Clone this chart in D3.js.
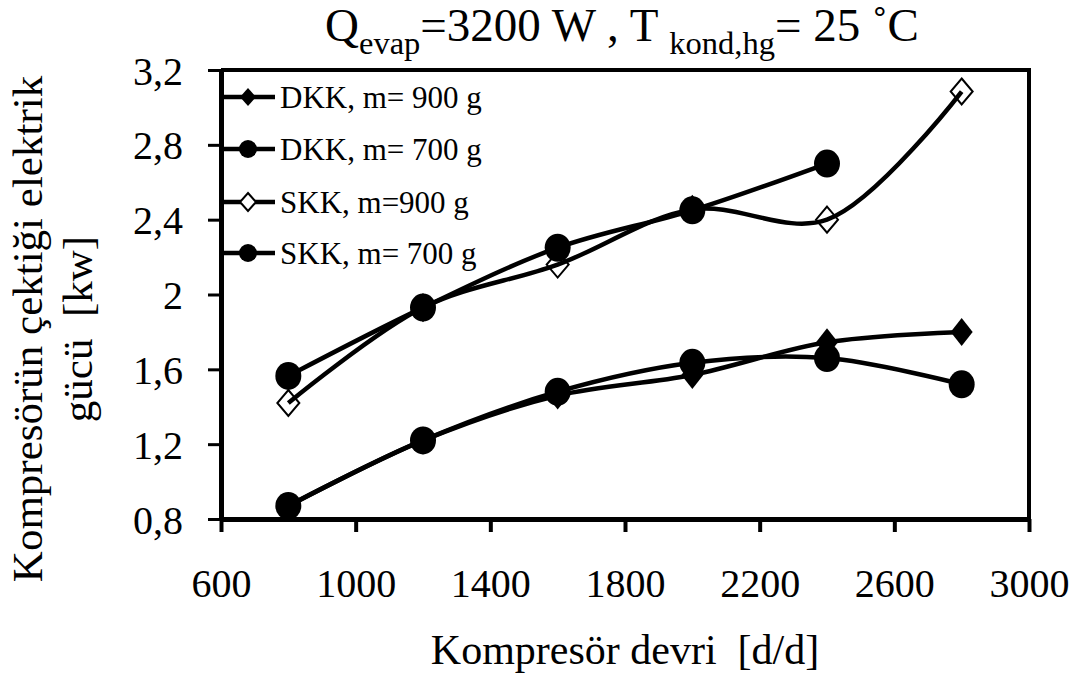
<!DOCTYPE html>
<html>
<head>
<meta charset="utf-8">
<script src="https://cdn.jsdelivr.net/npm/d3@7"></script>
<style>
  html, body { margin: 0; padding: 0; background: #fff; }
  svg { display: block; }
</style>
</head>
<body>
<svg id="chart" width="1082" height="680"></svg>
<script>
// ---- data ----
const rpm = [800, 1200, 1600, 2000, 2400, 2800];
const dkk900 = [0.87, 1.22, 1.46, 1.57, 1.745, 1.80];
const dkk700 = [0.87, 1.22, 1.48, 1.635, 1.66, 1.52];
const skk900 = [1.42, 1.93, 2.16, 2.455, 2.40, 3.085];
const skk700 = [1.565, 1.93, 2.25, 2.45, 2.70];
const seriesNames = ["DKK, m= 900 g", "DKK, m= 700 g", "SKK, m=900 g", "SKK, m= 700 g"];
const xTicks = [600, 1000, 1400, 1800, 2200, 2600, 3000];
const yTicks = [0.8, 1.2, 1.6, 2, 2.4, 2.8, 3.2];
const yTickLabels = ["0,8", "1,2", "1,6", "2", "2,4", "2,8", "3,2"];
const xTitle = "Kompresör devri \u00a0[d/d]";
const yTitle1 = "Kompresörün çektiği elektrik";
const yTitle2 = "gücü \u00a0[kw]";

const FONT = "Liberation Serif";
const svg = d3.select("#chart");
const L = 221, R = 1029, T = 70, B = 519;
const x = d3.scaleLinear().domain([600, 3000]).range([L, R]);
const y = d3.scaleLinear().domain([0.8, 3.2]).range([B, T]);

function txt(sel) { return sel.attr("font-family", FONT).attr("fill", "#000"); }

// frame (top/right)
svg.append("path")
  .attr("d", `M${L},${T}H${R}V${B}`)
  .attr("fill", "none").attr("stroke", "#000").attr("stroke-width", 4);

// x axis
const gx = svg.append("g").attr("transform", `translate(0,${B})`)
  .call(d3.axisBottom(x).tickValues(xTicks).tickSize(13).tickSizeOuter(0).tickFormat(d3.format("d")));
gx.attr("font-family", FONT).attr("font-size", 40);
gx.select(".domain").attr("stroke", "#000").attr("stroke-width", 5);
gx.selectAll(".tick line").attr("stroke", "#000").attr("stroke-width", 4);
gx.selectAll(".tick text").attr("y", 78).attr("dy", null).call(txt);

// y axis
const gy = svg.append("g").attr("transform", `translate(${L},0)`)
  .call(d3.axisLeft(y).tickValues(yTicks).tickSize(13).tickSizeOuter(0)
    .tickFormat((d, i) => yTickLabels[i]));
gy.attr("font-family", FONT).attr("font-size", 40);
gy.select(".domain").attr("stroke", "#000").attr("stroke-width", 5);
gy.selectAll(".tick line").attr("stroke", "#000").attr("stroke-width", 3);
gy.selectAll(".tick text").attr("x", -38).attr("dy", 14).call(txt);

// markers
function diamond(w, h) { return `M0,${-h}L${w},0L0,${h}L${-w},0Z`; }

const series = [
  { name: seriesNames[0], xs: rpm, ys: dkk900, mk: "fdiamond" },
  { name: seriesNames[1], xs: rpm, ys: dkk700, mk: "circle" },
  { name: seriesNames[2], xs: rpm, ys: skk900, mk: "odiamond" },
  { name: seriesNames[3], xs: rpm.slice(0, skk700.length), ys: skk700, mk: "circle" }
];

const line = d3.line().x(d => x(d[0])).y(d => y(d[1])).curve(d3.curveCatmullRom.alpha(0.5));

function drawMarker(g, mk, big) {
  if (mk === "circle") {
    g.append("ellipse").attr("rx", big ? 13 : 9).attr("ry", big ? 14 : 9).attr("fill", "#000");
  } else if (mk === "fdiamond") {
    g.append("path").attr("d", big ? diamond(11, 14) : diamond(8, 9)).attr("fill", "#000");
  } else {
    g.append("path").attr("d", big ? diamond(11, 13) : diamond(8, 9))
      .attr("fill", big ? "none" : "#fff").attr("stroke", "#000").attr("stroke-width", 2);
  }
}

series.forEach(s => {
  const pts = s.xs.map((v, i) => [v, s.ys[i]]);
  svg.append("path").attr("d", line(pts)).attr("fill", "none")
    .attr("stroke", "#000").attr("stroke-width", 4.5);
  pts.forEach(p => {
    const g = svg.append("g").attr("transform", `translate(${x(p[0])},${y(p[1])})`);
    drawMarker(g, s.mk, true);
  });
});

// legend
const legY = [97, 149, 202, 253];
series.forEach((s, i) => {
  const g = svg.append("g").attr("transform", `translate(0,${legY[i]})`);
  g.append("line").attr("x1", 222).attr("x2", 275).attr("y1", 0).attr("y2", 0)
    .attr("stroke", "#000").attr("stroke-width", 4.5);
  const mg = g.append("g").attr("transform", "translate(248,0)");
  drawMarker(mg, s.mk, false);
  g.append("text").attr("x", 280).attr("y", 11).attr("font-size", 31).call(txt).text(s.name);
});

// title
const title = svg.append("text").attr("x", 622).attr("y", 41).attr("text-anchor", "middle")
  .attr("font-size", 47).call(txt);
title.append("tspan").text("Q");
title.append("tspan").attr("font-size", 32.5).attr("dy", 13).text("evap");
title.append("tspan").attr("dy", -13).text("=3200 W , T ");
title.append("tspan").attr("font-size", 32.5).attr("dy", 13).text("kond,hg");
title.append("tspan").attr("dy", -13).text("= 25 ˚C");

// axis titles
svg.append("text").attr("x", 625).attr("y", 664).attr("text-anchor", "middle").attr("font-size", 42).call(txt).text(xTitle);
svg.append("text").attr("transform", "translate(42,329) rotate(-90)").attr("text-anchor", "middle").attr("font-size", 43).call(txt).text(yTitle1);
svg.append("text").attr("transform", "translate(92,329) rotate(-90)").attr("text-anchor", "middle").attr("font-size", 43).call(txt).text(yTitle2);
</script>
</body>
</html>
